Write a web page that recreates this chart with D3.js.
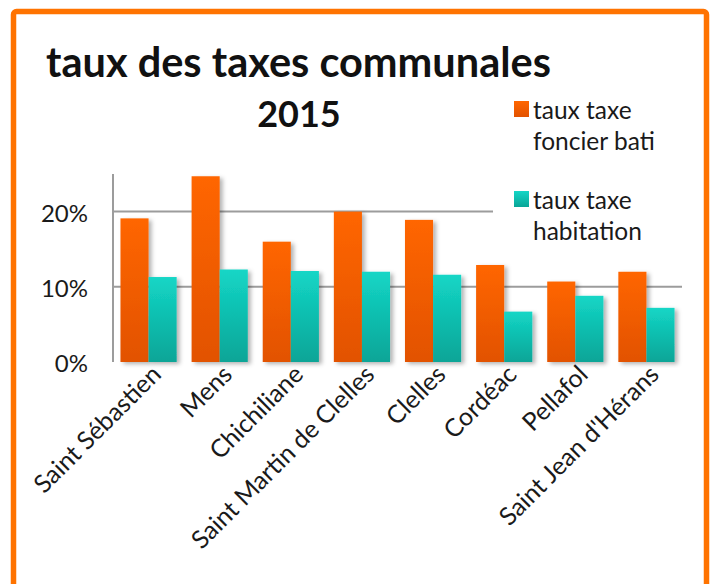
<!DOCTYPE html>
<html>
<head>
<meta charset="utf-8">
<script src="https://cdn.jsdelivr.net/npm/d3@7"></script>
<style>
  body { margin: 0; background: #fff; }
  svg { display: block; font-family: Lato, "Open Sans", sans-serif; }
</style>
</head>
<body>
<svg id="chart" width="715" height="584"></svg>
<script>
// data
var communes = ["Saint Sébastien", "Mens", "Chichiliane", "Saint Martin de Clelles",
                "Clelles", "Cordéac", "Pellafol", "Saint Jean d'Hérans"];
var foncierBati = [0.191, 0.247, 0.160, 0.200, 0.189, 0.129, 0.107, 0.120];
var habitation  = [0.113, 0.123, 0.121, 0.120, 0.116, 0.067, 0.088, 0.072];
var seriesNames = ["taux taxe foncier bati", "taux taxe habitation"];
var yTicks = [0, 0.1, 0.2];

var margin = {top: 174, left: 113},
    width = 682 - 113,
    height = 362 - 174;

var svg = d3.select("#chart");
var defs = svg.append("defs");

// vertical gradients for the bars
function grad(id, top, bottom) {
  var g = defs.append("linearGradient").attr("id", id)
    .attr("x1", 0).attr("y1", 0).attr("x2", 0).attr("y2", 1);
  g.append("stop").attr("offset", "0%").attr("stop-color", top);
  g.append("stop").attr("offset", "100%").attr("stop-color", bottom);
}
grad("gOrange", "#ff6600", "#e25200");
grad("gTeal", "#14d6c6", "#09a597");

var shadow = defs.append("filter").attr("id", "shadow")
  .attr("x", "-20%").attr("y", "-5%").attr("width", "150%").attr("height", "115%");
shadow.append("feDropShadow").attr("dx", 3).attr("dy", 2)
  .attr("stdDeviation", 2).attr("flood-color", "#000").attr("flood-opacity", 0.3);

// orange frame
svg.append("rect")
  .attr("x", 13.5).attr("y", 11.5)
  .attr("width", 693).attr("height", 600)
  .attr("rx", 3)
  .attr("fill", "none")
  .attr("stroke", "#ff7300")
  .attr("stroke-width", 5.5);

var x0 = d3.scaleBand().domain(communes).range([0, width]).paddingInner(0.21).paddingOuter(0.105);
var x1 = d3.scaleBand().domain(seriesNames).range([0, x0.bandwidth()]);
var y = d3.scaleLinear().domain([0, 0.25]).range([height, 0]);

var g = svg.append("g").attr("transform", "translate(" + margin.left + "," + margin.top + ")");

// gridlines
g.selectAll("line.grid")
  .data(yTicks.slice(1))
  .enter().append("line")
    .attr("class", "grid")
    .attr("x1", 0).attr("x2", width)
    .attr("y1", function(d){ return y(d); })
    .attr("y2", function(d){ return y(d); })
    .attr("stroke", "#9c9c9c").attr("stroke-width", 2);

// bars
var groups = g.selectAll("g.cat")
  .data(communes)
  .enter().append("g")
    .attr("class", "cat")
    .attr("transform", function(d){ return "translate(" + x0(d) + ",0)"; });

groups.append("rect")
  .attr("x", x1(seriesNames[0]))
  .attr("width", x1.bandwidth())
  .attr("y", function(d, i){ return y(foncierBati[i]); })
  .attr("height", function(d, i){ return height - y(foncierBati[i]); })
  .attr("fill", "url(#gOrange)")
  .attr("filter", "url(#shadow)");

groups.append("rect")
  .attr("x", x1(seriesNames[1]))
  .attr("width", x1.bandwidth())
  .attr("y", function(d, i){ return y(habitation[i]); })
  .attr("height", function(d, i){ return height - y(habitation[i]); })
  .attr("fill", "url(#gTeal)")
  .attr("filter", "url(#shadow)");

// axis lines
g.append("line")
  .attr("x1", 0).attr("x2", 0).attr("y1", 0).attr("y2", height)
  .attr("stroke", "#9c9c9c").attr("stroke-width", 2);
g.append("line")
  .attr("x1", 0).attr("x2", width).attr("y1", height).attr("y2", height)
  .attr("stroke", "#9c9c9c").attr("stroke-width", 2)
  .attr("filter", "url(#shadow)");

// y labels
g.selectAll("text.ylab")
  .data(yTicks)
  .enter().append("text")
    .attr("class", "ylab")
    .attr("x", -25)
    .attr("y", function(d){ return y(d) + 10; })
    .attr("text-anchor", "end")
    .attr("font-size", "24px")
    .attr("fill", "#1a1a1a")
    .text(d3.format(".0%"));

// x labels, rotated
g.selectAll("text.xlab")
  .data(communes)
  .enter().append("text")
    .attr("class", "xlab")
    .attr("transform", function(d){
      return "translate(" + (x0(d) + x0.bandwidth() / 2 + 14) + "," + (height + 14) + ") rotate(-45)";
    })
    .attr("text-anchor", "end")
    .attr("font-size", "25px")
    .attr("fill", "#1a1a1a")
    .text(function(d){ return d; });

// title
svg.append("text")
  .attr("x", 46).attr("y", 77)
  .attr("font-size", "41.5px").attr("font-weight", "bold")
  .attr("fill", "#111")
  .text("taux des taxes communales");
svg.append("text")
  .attr("x", 299).attr("y", 127)
  .attr("text-anchor", "middle")
  .attr("font-size", "36px").attr("font-weight", "bold")
  .attr("fill", "#111")
  .text("2015");

// legend with white background that hides the top gridline
var legend = svg.append("g");
legend.append("rect")
  .attr("x", 493).attr("y", 92).attr("width", 190).attr("height", 162)
  .attr("fill", "#fff");
var legendItems = [
  {lines: ["taux taxe", "foncier bati"], fill: "url(#gOrange)", y: 101},
  {lines: ["taux taxe", "habitation"], fill: "url(#gTeal)", y: 191}
];
legendItems.forEach(function(it){
  legend.append("rect")
    .attr("x", 514).attr("y", it.y).attr("width", 15).attr("height", 16)
    .attr("fill", it.fill);
  legend.append("text")
    .attr("x", 533).attr("y", it.y + 18)
    .attr("font-size", "24.5px")
    .attr("fill", "#1a1a1a")
    .selectAll("tspan")
    .data(it.lines)
    .enter().append("tspan")
      .attr("x", 533)
      .attr("dy", function(d, i){ return i === 0 ? 0 : 31; })
      .text(function(d){ return d; });
});
</script>
</body>
</html>
